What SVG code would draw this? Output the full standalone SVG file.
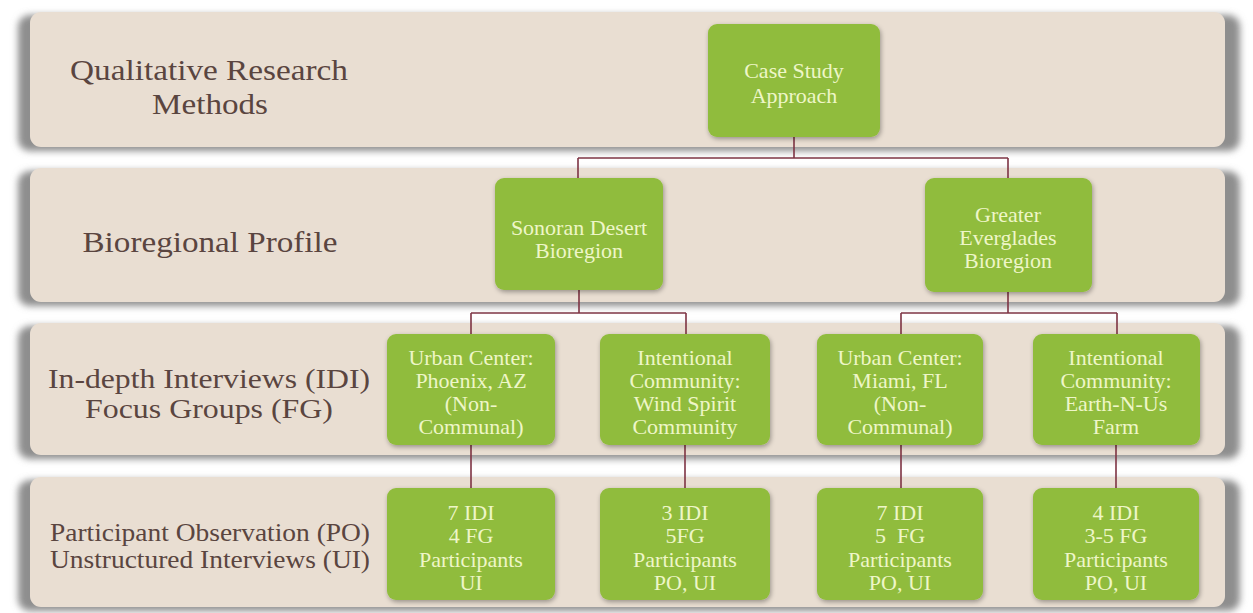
<svg xmlns="http://www.w3.org/2000/svg" width="1253" height="613" viewBox="0 0 1253 613">
  <defs>
    <filter id="bandShadow" x="-5%" y="-20%" width="110%" height="140%">
      <feGaussianBlur stdDeviation="3.5"/>
    </filter>
    <filter id="boxShadow" x="-20%" y="-20%" width="140%" height="140%">
      <feGaussianBlur in="SourceAlpha" stdDeviation="2.5"/>
      <feOffset dx="1" dy="2" result="b"/>
      <feComponentTransfer><feFuncA type="linear" slope="0.35"/></feComponentTransfer>
      <feMerge><feMergeNode/><feMergeNode in="SourceGraphic"/></feMerge>
    </filter>
  </defs>
  <style>
    .shadow { fill: #8e8e8e; filter: url(#bandShadow); }
    .band { fill: #e9ded2; }
    text { font-family: 'Liberation Serif', 'DejaVu Serif', 'Noto Serif', Tinos, 'Times New Roman', Times, Georgia, serif; }
    .lbl { fill: #5a4540; text-anchor: middle; }
    .box { fill: #90bc3c; filter: url(#boxShadow); }
    .bt { font-size: 22px; fill: #eef6c8; text-anchor: middle; }
    .conn { fill: none; stroke: #7e3444; stroke-width: 1.6; }
  </style>
  <rect width="1253" height="613" fill="#ffffff"/>

  <g id="band1">
    <rect class="shadow" x="18" y="15" width="1222" height="136" rx="12"/>
    <rect class="band" x="30" y="12" width="1195" height="135" rx="11"/>
    <text class="lbl" font-size="30" x="209" y="80" textLength="278" lengthAdjust="spacingAndGlyphs">Qualitative Research</text>
    <text class="lbl" font-size="30" x="210" y="114" textLength="116" lengthAdjust="spacingAndGlyphs">Methods</text>
  </g>
  <g id="band2">
    <rect class="shadow" x="18" y="171" width="1222" height="135" rx="12"/>
    <rect class="band" x="30" y="168" width="1195" height="134" rx="11"/>
    <text class="lbl" font-size="30" x="210" y="252" textLength="255" lengthAdjust="spacingAndGlyphs">Bioregional Profile</text>
  </g>
  <g id="band3">
    <rect class="shadow" x="18" y="326" width="1222" height="133" rx="12"/>
    <rect class="band" x="30" y="323" width="1195" height="132" rx="11"/>
    <text class="lbl" font-size="27" x="209" y="388" textLength="322" lengthAdjust="spacingAndGlyphs">In-depth Interviews (IDI)</text>
    <text class="lbl" font-size="27" x="209" y="418" textLength="248" lengthAdjust="spacingAndGlyphs">Focus Groups (FG)</text>
  </g>
  <g id="band4">
    <rect class="shadow" x="18" y="480" width="1222" height="131" rx="12"/>
    <rect class="band" x="30" y="477" width="1195" height="130" rx="11"/>
    <text class="lbl" font-size="25" x="210" y="541" textLength="320" lengthAdjust="spacingAndGlyphs">Participant Observation (PO)</text>
    <text class="lbl" font-size="25" x="210" y="568" textLength="320" lengthAdjust="spacingAndGlyphs">Unstructured Interviews (UI)</text>
  </g>

  <g id="connectors">
    <path class="conn" d="M794 137 V158 M578 158 H1008 M578 158 V178 M1008 158 V178"/>
    <path class="conn" d="M579 290 V313 M471 313 H686 M471 313 V334 M686 313 V334"/>
    <path class="conn" d="M1008 292 V313 M901 313 H1117 M901 313 V334 M1117 313 V334"/>
    <path class="conn" d="M471 445 V488 M685 445 V488 M901 445 V488 M1116 445 V488"/>
  </g>

  <g id="case-study">
    <rect class="box" x="708" y="24" width="172" height="113" rx="9"/>
    <text class="bt" x="794" y="78" font-size="23">Case Study</text>
    <text class="bt" x="794" y="103" font-size="23">Approach</text>
  </g>
  <g id="sonoran">
    <rect class="box" x="495" y="178" width="168" height="112" rx="9"/>
    <text class="bt" x="579" y="235">Sonoran Desert</text>
    <text class="bt" x="579" y="258">Bioregion</text>
  </g>
  <g id="everglades">
    <rect class="box" x="925" y="178" width="167" height="114" rx="9"/>
    <text class="bt" x="1008" y="222">Greater</text>
    <text class="bt" x="1008" y="245">Everglades</text>
    <text class="bt" x="1008" y="268">Bioregion</text>
  </g>

  <g id="phoenix">
    <rect class="box" x="387" y="334" width="168" height="111" rx="9"/>
    <text class="bt" x="471" y="365">Urban Center:</text>
    <text class="bt" x="471" y="388">Phoenix, AZ</text>
    <text class="bt" x="471" y="411">(Non-</text>
    <text class="bt" x="471" y="434">Communal)</text>
  </g>
  <g id="wind-spirit">
    <rect class="box" x="600" y="334" width="170" height="111" rx="9"/>
    <text class="bt" x="685" y="365">Intentional</text>
    <text class="bt" x="685" y="388">Community:</text>
    <text class="bt" x="685" y="411">Wind Spirit</text>
    <text class="bt" x="685" y="434">Community</text>
  </g>
  <g id="miami">
    <rect class="box" x="817" y="334" width="166" height="111" rx="9"/>
    <text class="bt" x="900" y="365">Urban Center:</text>
    <text class="bt" x="900" y="388">Miami, FL</text>
    <text class="bt" x="900" y="411">(Non-</text>
    <text class="bt" x="900" y="434">Communal)</text>
  </g>
  <g id="earth-n-us">
    <rect class="box" x="1033" y="334" width="167" height="111" rx="9"/>
    <text class="bt" x="1116" y="365">Intentional</text>
    <text class="bt" x="1116" y="388">Community:</text>
    <text class="bt" x="1116" y="411">Earth-N-Us</text>
    <text class="bt" x="1116" y="434">Farm</text>
  </g>

  <g id="phoenix-data">
    <rect class="box" x="387" y="488" width="168" height="112" rx="9"/>
    <text class="bt" x="471" y="520">7 IDI</text>
    <text class="bt" x="471" y="543">4 FG</text>
    <text class="bt" x="471" y="567">Participants</text>
    <text class="bt" x="471" y="590">UI</text>
  </g>
  <g id="wind-spirit-data">
    <rect class="box" x="600" y="488" width="170" height="112" rx="9"/>
    <text class="bt" x="685" y="520">3 IDI</text>
    <text class="bt" x="685" y="543">5FG</text>
    <text class="bt" x="685" y="567">Participants</text>
    <text class="bt" x="685" y="590">PO, UI</text>
  </g>
  <g id="miami-data">
    <rect class="box" x="817" y="488" width="166" height="112" rx="9"/>
    <text class="bt" x="900" y="520">7 IDI</text>
    <text class="bt" x="900" y="543" xml:space="preserve">5  FG</text>
    <text class="bt" x="900" y="567">Participants</text>
    <text class="bt" x="900" y="590">PO, UI</text>
  </g>
  <g id="earth-n-us-data">
    <rect class="box" x="1033" y="488" width="166" height="112" rx="9"/>
    <text class="bt" x="1116" y="520">4 IDI</text>
    <text class="bt" x="1116" y="543">3-5 FG</text>
    <text class="bt" x="1116" y="567">Participants</text>
    <text class="bt" x="1116" y="590">PO, UI</text>
  </g>
</svg>
